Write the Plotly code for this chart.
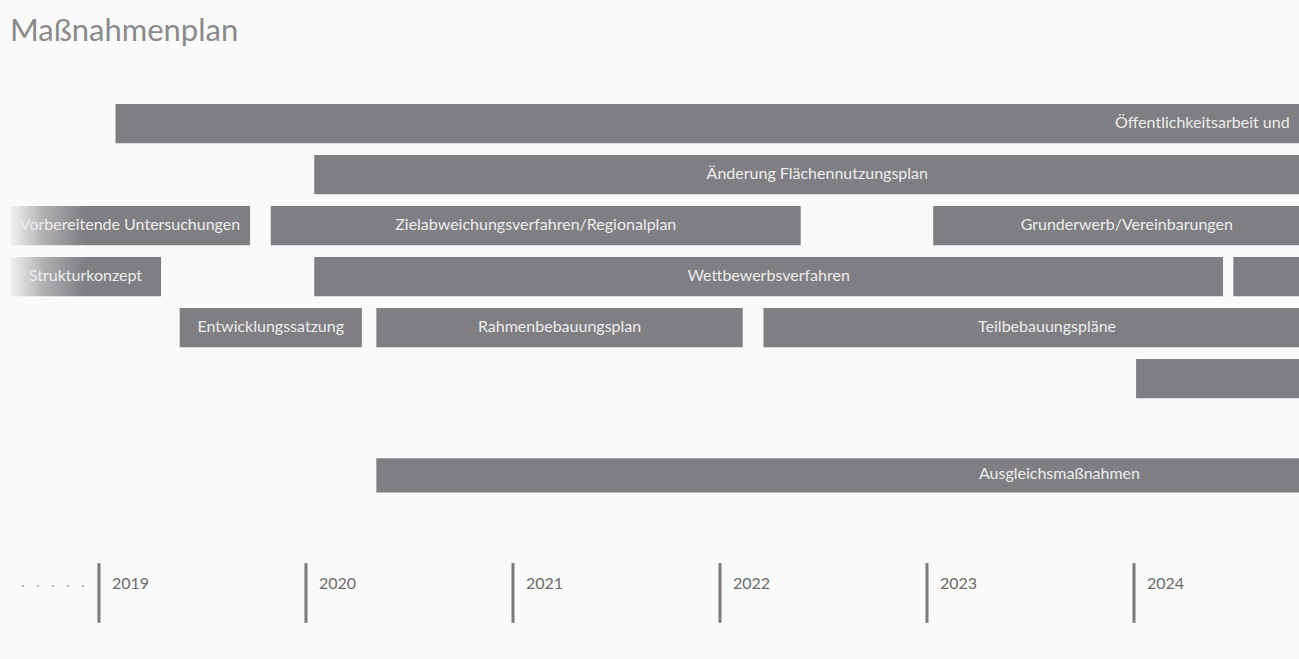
import plotly.graph_objects as go

# ---------------- data ----------------
tasks = [
    "Öffentlichkeitsarbeit und",
    "Änderung Flächennutzungsplan",
    "Vorbereitende Untersuchungen",
    "Zielabweichungsverfahren/Regionalplan",
    "Grunderwerb/Vereinbarungen",
    "Strukturkonzept",
    "Wettbewerbsverfahren",
    "",
    "Entwicklungssatzung",
    "Rahmenbebauungsplan",
    "Teilbebauungspläne",
    "",
    "Ausgleichsmaßnahmen",
]
rows = [0, 1, 2, 2, 2, 3, 3, 3, 4, 4, 4, 5, 6.9]
starts = [2019.08, 2020.04, 2018.57, 2019.83, 2023.03, 2018.57, 2020.04, 2024.48,
          2019.39, 2020.34, 2022.21, 2024.01, 2020.34]
ends = [2029.58, 2024.90, 2019.73, 2022.39, 2024.90, 2019.30, 2024.43, 2025.50,
        2020.27, 2022.11, 2024.95, 2025.50, 2026.94]
fades_in = [False, False, True, False, False, True, False, False,
            False, False, False, False, False]
years = [2019, 2020, 2021, 2022, 2023, 2024]
title = "Maßnahmenplan"

# ---------------- style ----------------
BG = "#fafafa"
BAR = "#7f7e82"
BAR_TEXT = "#ececec"
FONT = "Lato"
BAR_H = 0.77
BAR_H_LAST = 0.67
FADE = 0.36
TICK_TOP, TICK_BOTTOM, YEAR_Y, DOTS_Y = 8.62, 9.79, 9.0, 9.07

fig = go.Figure()

widths = [BAR_H_LAST if r > 6 else BAR_H for r in rows]

# solid bars
solid = [i for i in range(len(tasks)) if not fades_in[i]]
fig.add_trace(go.Bar(
    orientation="h",
    y=[rows[i] for i in solid],
    base=[starts[i] for i in solid],
    x=[ends[i] - starts[i] for i in solid],
    width=[widths[i] for i in solid],
    marker=dict(color=BAR, line=dict(width=0)),
    hoverinfo="skip",
))

# bars that fade in from the left
for i in range(len(tasks)):
    if not fades_in[i]:
        continue
    s, e, r, h = starts[i], ends[i], rows[i], widths[i]
    fig.add_trace(go.Scatter(
        x=[s, e, e, s, s],
        y=[r - h / 2, r - h / 2, r + h / 2, r + h / 2, r - h / 2],
        mode="lines",
        fill="toself",
        line=dict(width=0, color="rgba(0,0,0,0)"),
        fillgradient=dict(type="horizontal",
                          colorscale=[[0, "#f3f3f3"], [0.45, "#b0afb2"], [1, BAR]],
                          start=s, stop=s + FADE),
        hoverinfo="skip",
    ))

# bar labels
fig.add_trace(go.Scatter(
    x=[(s + e) / 2 for s, e in zip(starts, ends)],
    y=rows,
    text=tasks,
    mode="text",
    textposition="middle center",
    textfont=dict(family=FONT, size=16, color=BAR_TEXT),
    hoverinfo="skip",
))

# timeline ticks
tx, ty = [], []
for yr in years:
    tx += [yr, yr, None]
    ty += [TICK_TOP, TICK_BOTTOM, None]
fig.add_trace(go.Scatter(x=tx, y=ty, mode="lines",
                         line=dict(color="#7a7a7a", width=3), hoverinfo="skip"))

# leading dots
fig.add_trace(go.Scatter(x=[years[0] - 0.372, years[0] - 0.045], y=[DOTS_Y, DOTS_Y],
                         mode="lines",
                         line=dict(color="#b4b4b4", width=2, dash="2px,13px"),
                         hoverinfo="skip"))

annotations = [
    dict(x=yr, y=YEAR_Y, xref="x", yref="y", text=str(yr), showarrow=False,
         xanchor="left", yanchor="middle", xshift=11,
         font=dict(family=FONT, size=16, color="#6a6a6a"))
    for yr in years
]
annotations.append(dict(x=0.006, y=1 - 8 / 659, xref="paper", yref="paper",
                        text=title, showarrow=False, xanchor="left", yanchor="top",
                        font=dict(family=FONT, size=31, color="#8a8a8a")))

fig.update_layout(
    width=1299, height=659,
    margin=dict(l=0, r=0, t=0, b=0),
    paper_bgcolor=BG, plot_bgcolor=BG,
    showlegend=False,
    barmode="overlay",
    xaxis=dict(range=[2018.522, 2024.797], visible=False, fixedrange=True),
    yaxis=dict(range=[10.5, -2.422], visible=False, fixedrange=True),
    annotations=annotations,
    hovermode=False,
)

fig.write_html(
    "out.html",
    config={"displayModeBar": False},
    post_script="document.body.style.margin='0';document.body.style.overflow='hidden';",
)
